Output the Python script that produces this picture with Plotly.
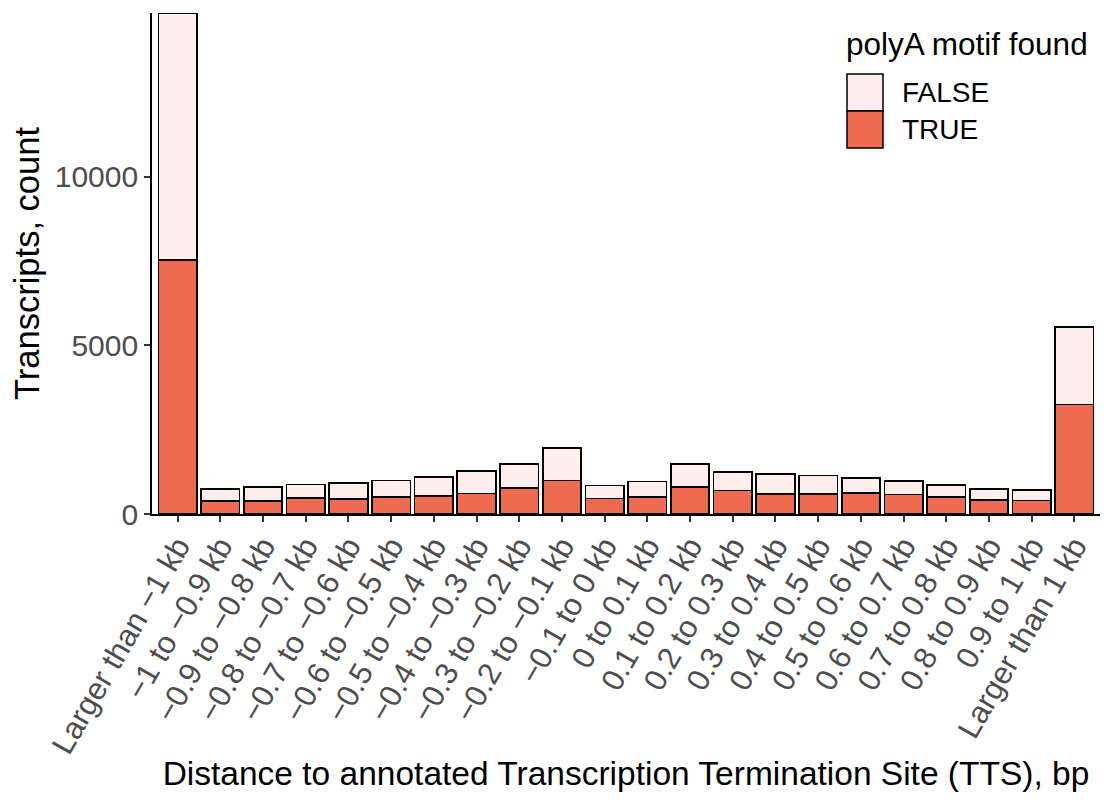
import plotly.graph_objects as go

categories = [
    "Larger than −1 kb", "−1 to −0.9 kb", "−0.9 to −0.8 kb", "−0.8 to −0.7 kb",
    "−0.7 to −0.6 kb", "−0.6 to −0.5 kb", "−0.5 to −0.4 kb", "−0.4 to −0.3 kb",
    "−0.3 to −0.2 kb", "−0.2 to −0.1 kb", "−0.1 to 0 kb", "0 to 0.1 kb",
    "0.1 to 0.2 kb", "0.2 to 0.3 kb", "0.3 to 0.4 kb", "0.4 to 0.5 kb",
    "0.5 to 0.6 kb", "0.6 to 0.7 kb", "0.7 to 0.8 kb", "0.8 to 0.9 kb",
    "0.9 to 1 kb", "Larger than 1 kb",
]
true_counts = [7535, 385, 395, 475, 445, 505, 535, 605, 765, 990, 460, 505,
               810, 695, 595, 595, 615, 575, 495, 415, 405, 3245]
false_counts = [7330, 360, 415, 400, 485, 485, 555, 665, 715, 965, 390, 455,
                675, 545, 595, 545, 445, 405, 375, 330, 310, 2300]
y_ticks = [0, 5000, 10000]
legend_title = "polyA motif found"
legend_labels = ["FALSE", "TRUE"]

COL_TRUE = "#EE6A50"
COL_FALSE = "#FDEEEC"
FONT = "Liberation Sans, Arial, sans-serif"

OFF = 8  # page body margin
W, H = 1108 - 2 * OFF, 800 - 2 * OFF
# panel in window pixels: x 152..1100, y 13..514
L, R, T = 152 - OFF, 0, 13 - OFF
B = H - (514 - OFF)
PW, PH = W - L - R, H - T - B


def px(x):
    return (x - OFF - L) / PW


def py(y):
    return (H - B - (y - OFF)) / PH


fig = go.Figure()
fig.add_trace(go.Bar(x=categories, y=true_counts, name="TRUE",
                     marker=dict(color=COL_TRUE, line=dict(color="black", width=1.7)),
                     showlegend=False))
fig.add_trace(go.Bar(x=categories, y=false_counts, name="FALSE",
                     marker=dict(color=COL_FALSE, line=dict(color="black", width=1.7)),
                     showlegend=False))

ymax = max(t + f for t, f in zip(true_counts, false_counts))

fig.update_layout(
    width=W, height=H,
    margin=dict(l=L, r=R, t=T, b=B, autoexpand=False),
    barmode="stack", bargap=0.1,
    plot_bgcolor="white", paper_bgcolor="white",
    font=dict(family=FONT, color="black"),
    xaxis=dict(
        type="category", range=[-0.6, len(categories) - 0.4],
        showline=True, linecolor="black", linewidth=1.6,
        ticks="outside", ticklen=6, tickwidth=1.5, tickcolor="#333333",
        tickangle=-60, tickfont=dict(size=31, color="#4D4D4D", family=FONT),
        ticklabelstandoff=-6,
        showgrid=False, zeroline=False,
        title=dict(text="Distance to annotated Transcription Termination Site (TTS), bp",
                   font=dict(size=33.5, color="black", family=FONT), standoff=9),
    ),
    yaxis=dict(
        range=[0, ymax], tickvals=y_ticks, ticktext=[str(v) for v in y_ticks],
        showline=True, linecolor="black", linewidth=1.6,
        ticks="outside", ticklen=6, tickwidth=1.5, tickcolor="#333333",
        tickfont=dict(size=30, color="#4D4D4D", family=FONT),
        showgrid=False, zeroline=False,
        title=dict(text="Transcripts, count",
                   font=dict(size=34.5, color="black", family=FONT), standoff=13),
    ),
)

# legend drawn inside the panel (top-right)
shapes = []
annotations = []
boxes = [(74, 111), (111, 148)]
fills = [COL_FALSE, COL_TRUE]
for (y0, y1), fc, lab in zip(boxes, fills, legend_labels):
    shapes.append(dict(type="rect", xref="paper", yref="paper",
                       x0=px(847), x1=px(883), y0=py(y1), y1=py(y0),
                       fillcolor=fc, line=dict(color="black", width=1.5), layer="above"))
    annotations.append(dict(text=lab, xref="paper", yref="paper",
                            x=px(900), y=py((y0 + y1) / 2), xanchor="left", yanchor="middle",
                            showarrow=False, font=dict(size=28, color="black", family=FONT)))
annotations.append(dict(text=legend_title, xref="paper", yref="paper",
                        x=px(844), y=py(44), xanchor="left", yanchor="middle",
                        showarrow=False, font=dict(size=31.5, color="black", family=FONT)))
fig.update_layout(shapes=shapes, annotations=annotations)

fig.write_html("out.html")
